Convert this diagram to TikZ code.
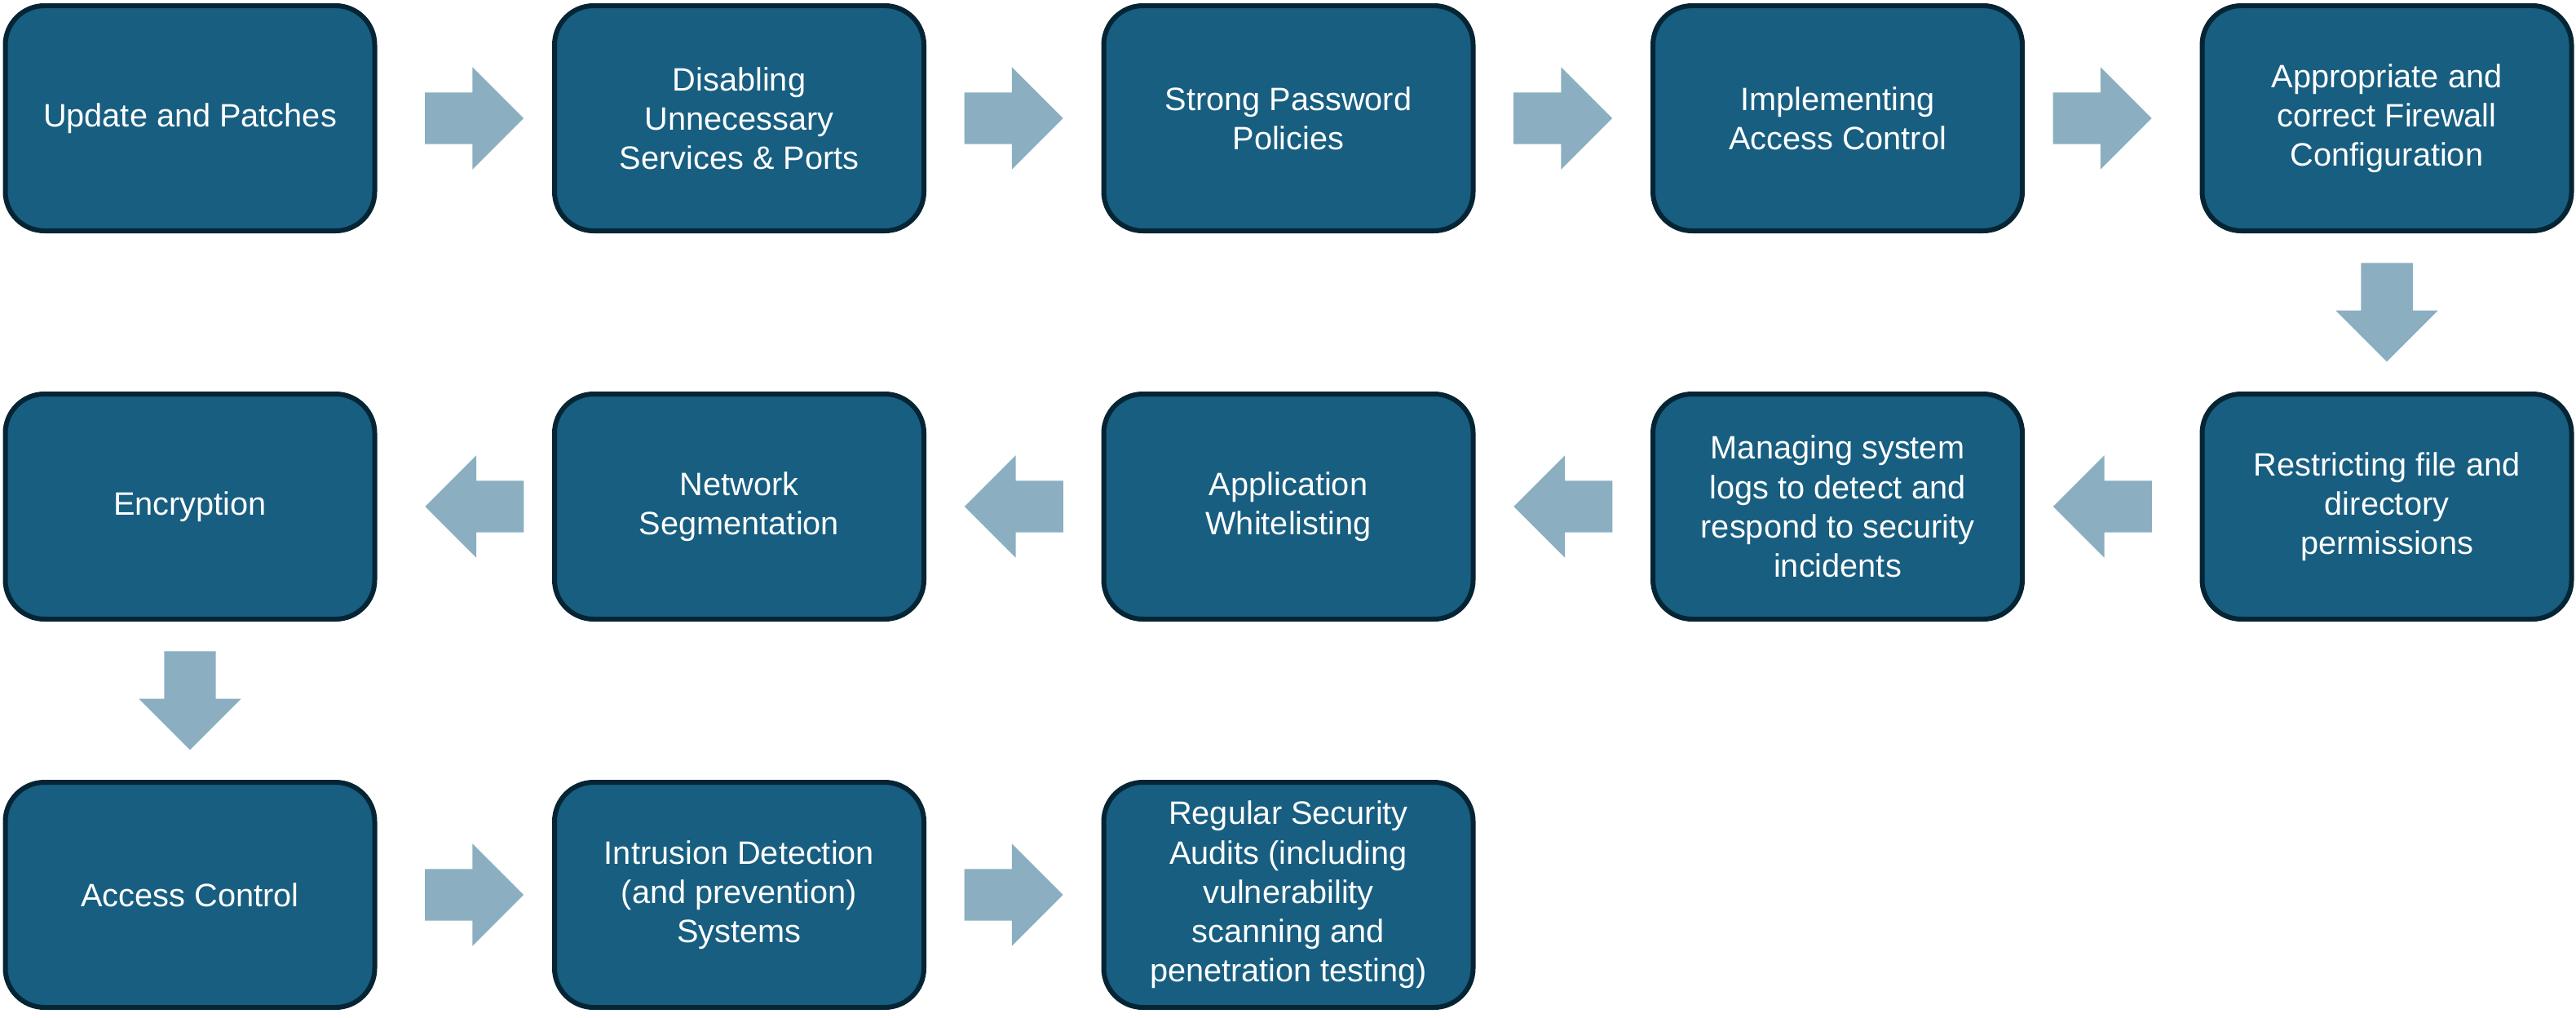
\documentclass[tikz,border=0pt]{standalone}
\usepackage{fontspec}
\setmainfont{Liberation Sans}
\usetikzlibrary{shapes.arrows}
\definecolor{boxfill}{RGB}{23,94,128}
\definecolor{boxline}{RGB}{5,36,52}
\definecolor{arrowfill}{RGB}{139,175,193}
\begin{document}
\begin{tikzpicture}[
stepbox/.style={rectangle, rounded corners=0.48cm, draw=boxline, fill=boxfill, line width=0.06cm, minimum width=4.53cm, minimum height=2.76cm, inner sep=2pt, text=white, align=center, font=\fontsize{11.3pt}{13.7pt}\selectfont},
flowarrow/.style={single arrow, fill=arrowfill, draw=none, minimum height=1.21cm, single arrow head extend=0.31cm, single arrow tip angle=90, single arrow head indent=0pt, inner xsep=0pt, inner ysep=0.31cm}
]
    \useasboundingbox (0,0) rectangle (31.59,-12.47);

    % first row, left to right
    \node [stepbox] (s1) at (2.33,-1.45) {Update and Patches};
    \node [stepbox] (s2) at (9.065,-1.45) {Disabling\\Unnecessary\\Services \& Ports};
    \node [stepbox] (s3) at (15.80,-1.45) {Strong Password\\Policies};
    \node [stepbox] (s4) at (22.535,-1.45) {Implementing\\Access Control};
    \node [stepbox] (s5) at (29.27,-1.45) {Appropriate and\\correct Firewall\\Configuration};

    % second row, right to left
    \node [stepbox] (s6) at (29.27,-6.21) {Restricting file and\\directory\\permissions};
    \node [stepbox] (s7) at (22.535,-6.21) {Managing system\\logs to detect and\\respond to security\\incidents};
    \node [stepbox] (s8) at (15.80,-6.21) {Application\\Whitelisting};
    \node [stepbox] (s9) at (9.065,-6.21) {Network\\Segmentation};
    \node [stepbox] (s10) at (2.33,-6.21) {Encryption};

    % third row
    \node [stepbox] (s11) at (2.33,-10.97) {Access Control};
    \node [stepbox] (s12) at (9.065,-10.97) {Intrusion Detection\\(and prevention)\\Systems};
    \node [stepbox] (s13) at (15.80,-10.97) {Regular Security\\Audits (including\\vulnerability\\scanning and\\penetration testing)};

    % block arrows between the steps (shifts are along the arrow)
    \path (s1) -- (s2) node [flowarrow, midway, xshift=-0.04cm] (a1) {};
    \path (s2) -- (s3) node [flowarrow, midway, xshift=-0.16cm] (a2) {};
    \path (s3) -- (s4) node [flowarrow, midway, xshift=-0.16cm] (a3) {};
    \path (s4) -- (s5) node [flowarrow, midway, xshift=-0.28cm] (a4) {};
    \path (s5) -- (s6) node [flowarrow, midway, rotate=-90, xshift=-0.16cm] (a5) {};
    \path (s6) -- (s7) node [flowarrow, midway, rotate=180, xshift=-0.04cm] (a6) {};
    \path (s7) -- (s8) node [flowarrow, midway, rotate=180, xshift=-0.16cm] (a7) {};
    \path (s8) -- (s9) node [flowarrow, midway, rotate=180, xshift=-0.16cm] (a8) {};
    \path (s9) -- (s10) node [flowarrow, midway, rotate=180, xshift=-0.28cm] (a9) {};
    \path (s10) -- (s11) node [flowarrow, midway, rotate=-90, xshift=-0.16cm] (a10) {};
    \path (s11) -- (s12) node [flowarrow, midway, xshift=-0.04cm] (a11) {};
    \path (s12) -- (s13) node [flowarrow, midway, xshift=-0.16cm] (a12) {};
\end{tikzpicture}
\end{document}
